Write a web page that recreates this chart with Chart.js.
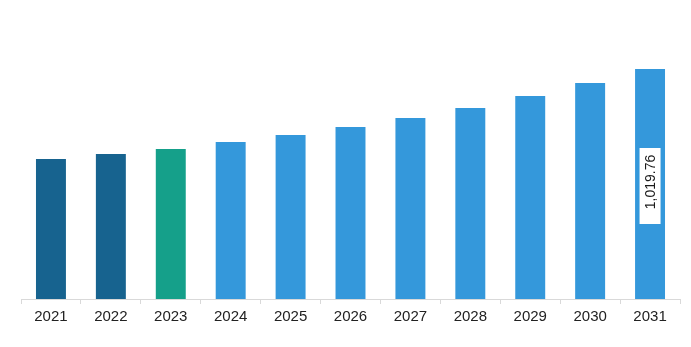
<!DOCTYPE html>
<html>
<head>
<meta charset="utf-8">
<script src="https://cdn.jsdelivr.net/npm/chart.js@4"></script>
<style>
  html, body { margin: 0; padding: 0; background: #ffffff; }
  #wrap { width: 691px; height: 347px; }
</style>
</head>
<body>
<div id="wrap"><canvas id="myChart"></canvas></div>
<script>
const years = ["2021", "2022", "2023", "2024", "2025", "2026", "2027", "2028", "2029", "2030", "2031"];
const values = [620.7, 642.9, 665.0, 696.0, 727.0, 762.6, 802.5, 846.8, 900.0, 957.7, 1019.76];
const barColors = ["#17638f", "#17638f", "#15a08a", "#3498db", "#3498db", "#3498db", "#3498db", "#3498db", "#3498db", "#3498db", "#3498db"];
const labelIndex = 10;
const labelText = "1,019.76";

// white box with rotated value inside the last bar
const valueLabelPlugin = {
    id: "valueLabel",
    afterDatasetsDraw: (chart) => {
        const bar = chart.getDatasetMeta(0).data[labelIndex];
        const ctx = chart.ctx;
        const cx = bar.x;
        const cy = (bar.y + bar.base) / 2 + 2;
        ctx.save();
        ctx.fillStyle = "#ffffff";
        ctx.fillRect(cx - 10.5, cy - 38, 21, 76);
        ctx.translate(cx, cy - 4);
        ctx.rotate(-Math.PI / 2);
        ctx.fillStyle = "#1a1a1a";
        ctx.font = "14px 'Liberation Sans', Arial, sans-serif";
        ctx.textAlign = "center";
        ctx.textBaseline = "middle";
        ctx.fillText(labelText, 0, 1);
        ctx.restore();
    },
};

document.addEventListener("DOMContentLoaded", () => {
    const ctx = document.getElementById("myChart").getContext("2d");
    new Chart(ctx, {
        type: "bar",
        data: {
            labels: years,
            datasets: [
                {
                    data: values,
                    backgroundColor: barColors,
                    barPercentage: 0.5,
                    categoryPercentage: 1.0,
                },
            ],
        },
        options: {
            responsive: true,
            maintainAspectRatio: false,
            animation: false,
            plugins: {
                legend: { display: false },
                tooltip: { enabled: false },
            },
            layout: {
                padding: { top: 20, left: 21, right: 11, bottom: 17 },
            },
            scales: {
                x: {
                    grid: {
                        drawOnChartArea: false,
                        drawTicks: true,
                        tickLength: 5,
                        color: "#d9d9d9",
                    },
                    border: { color: "#d9d9d9" },
                    ticks: {
                        color: "#222222",
                        padding: 4,
                        font: { family: "'Liberation Sans', Arial, sans-serif", size: 15 },
                    },
                },
                y: {
                    display: false,
                    min: 0,
                    max: 1237,
                },
            },
        },
        plugins: [valueLabelPlugin],
    });
});
</script>
</body>
</html>
